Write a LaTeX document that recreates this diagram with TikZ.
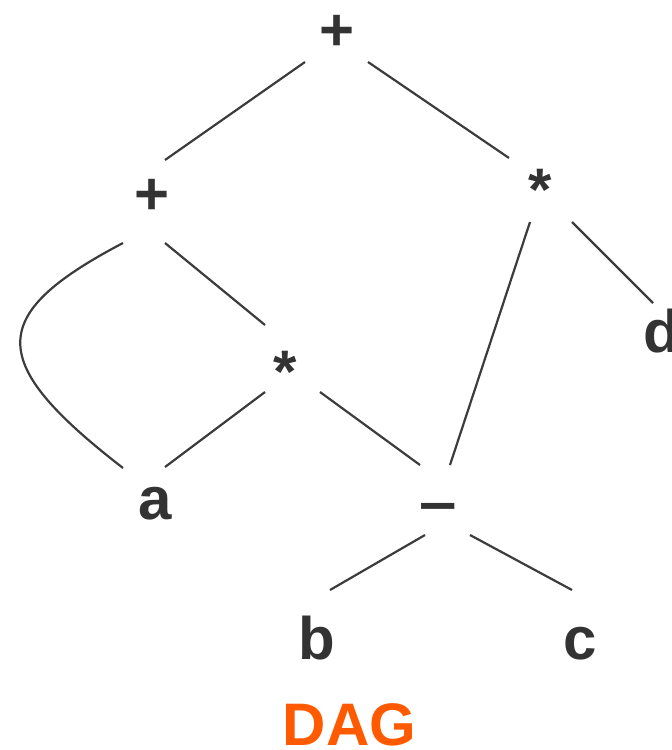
\documentclass[tikz,border=0pt]{standalone}
\usepackage{fontspec}
\setmainfont{Liberation Sans}
\definecolor{ink}{HTML}{333333}
\definecolor{edge}{HTML}{3C3C3C}
\definecolor{dagorange}{HTML}{FF5A00}
\begin{document}
\begin{tikzpicture}[x=1pt,y=-1pt,
  lab/.style={anchor=base,inner sep=0pt,text=ink,font=\fontsize{60}{72}\selectfont\bfseries},
  link/.style={draw=edge,line width=2.2pt}]
\useasboundingbox (0,0) rectangle (672,750);
\node[lab] (T) at (337,50) {+};
\node[lab] (L) at (152,214) {+};
\node[lab] (R) at (540,210) {*};
\node[lab] (M) at (285,392) {*};
\node[lab] (a) at (155,519) {a};
\node[lab] (m) at (438,522) {\scalebox{1.12}[1]{–}};
\node[lab] (b) at (317,659) {b};
\node[lab] (c) at (580,659) {c};
\node[lab] (d) at (662,352) {d};
\node[lab,text=dagorange] (dag) at (349.5,745) {DAG};
\draw[link] ([shift={(-32,12)}]T.base) -- ([shift={(13,-54)}]L.base);
\draw[link] ([shift={(31,12)}]T.base) -- ([shift={(-31,-52)}]R.base);
\draw[link] ([shift={(13,29)}]L.base) -- ([shift={(-20,-67)}]M.base);
\draw[link] ([shift={(-29,29)}]L.base) .. controls (-14,315) and (-14,362) .. ([shift={(-32,-51)}]a.base);
\draw[link] ([shift={(32,12)}]R.base) -- ([shift={(-9,-49)}]d.base);
\draw[link] ([shift={(-10,12)}]R.base) -- ([shift={(12,-57)}]m.base);
\draw[link] ([shift={(-20,0)}]M.base) -- ([shift={(10,-52)}]a.base);
\draw[link] ([shift={(35,0)}]M.base) -- ([shift={(-18,-57)}]m.base);
\draw[link] ([shift={(-13,13)}]m.base) -- ([shift={(13,-69)}]b.base);
\draw[link] ([shift={(32,13)}]m.base) -- ([shift={(-8,-69)}]c.base);
\end{tikzpicture}
\end{document}
